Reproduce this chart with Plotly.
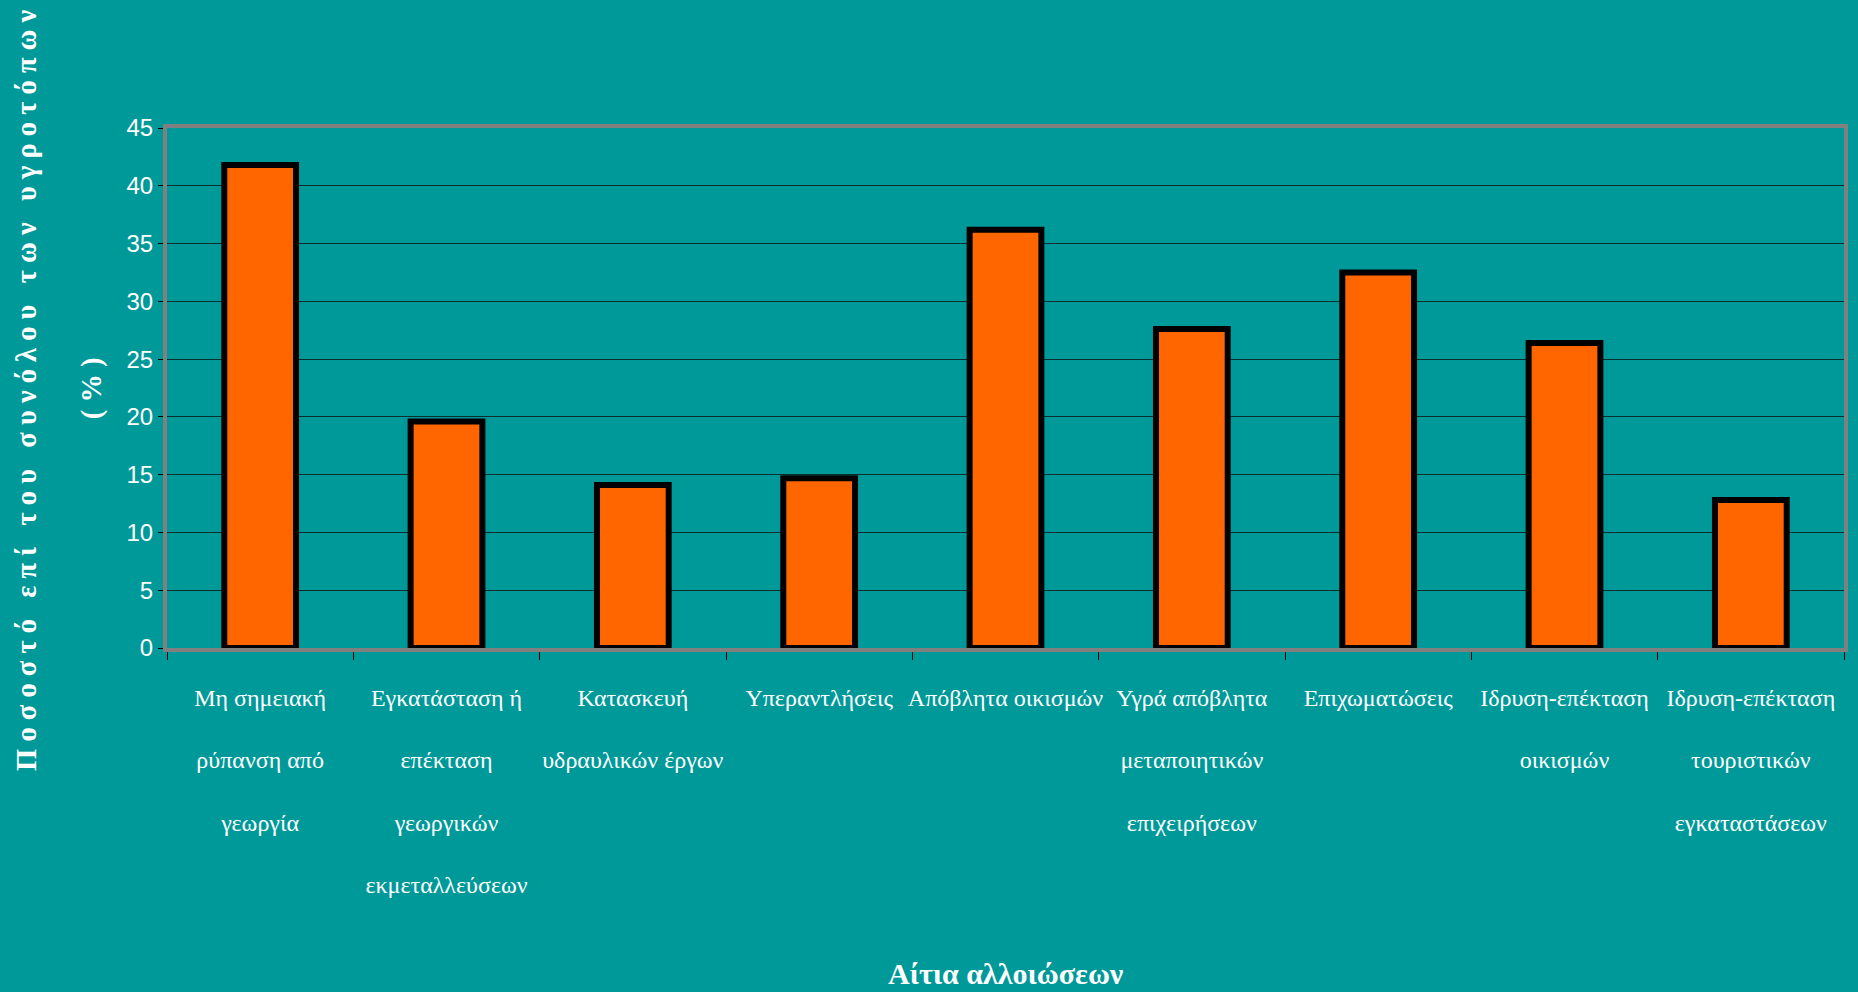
import plotly.graph_objects as go

# ---- data ----
categories = [
    "Μη σημειακή ρύπανση από γεωργία",
    "Εγκατάσταση ή επέκταση γεωργικών εκμεταλλεύσεων",
    "Κατασκευή υδραυλικών έργων",
    "Υπεραντλήσεις",
    "Απόβλητα οικισμών",
    "Υγρά απόβλητα μεταποιητικών επιχειρήσεων",
    "Επιχωματώσεις",
    "Ιδρυση-επέκταση οικισμών",
    "Ιδρυση-επέκταση τουριστικών εγκαταστάσεων",
]
tick_lines = [
    ["Μη σημειακή", "ρύπανση από", "γεωργία"],
    ["Εγκατάσταση ή", "επέκταση", "γεωργικών", "εκμεταλλεύσεων"],
    ["Κατασκευή", "υδραυλικών έργων"],
    ["Υπεραντλήσεις"],
    ["Απόβλητα οικισμών"],
    ["Υγρά απόβλητα", "μεταποιητικών", "επιχειρήσεων"],
    ["Επιχωματώσεις"],
    ["Ιδρυση-επέκταση", "οικισμών"],
    ["Ιδρυση-επέκταση", "τουριστικών", "εγκαταστάσεων"],
]
values = [41.8, 19.6, 14.1, 14.7, 36.2, 27.6, 32.5, 26.4, 12.8]
y_ticks = [0, 5, 10, 15, 20, 25, 30, 35, 40, 45]

y_title_words = ["Ποσοστό", "επί", "του", "συνόλου", "των", "υγροτόπων"]
y_title_unit = "(%)"
x_title = "Αίτια αλλοιώσεων"

# ---- styling ----
TEAL = "#009999"
ORANGE = "#FF6600"
GRAY = "#808080"
NB = "\u00a0"


def spaced(word):
    return NB.join(list(word))


y_title_text = (NB * 3).join(spaced(w) for w in y_title_words)
y_unit_text = NB.join(list(y_title_unit))
tick_text = ["<br><br>".join(lines) for lines in tick_lines]

fig = go.Figure()
fig.add_trace(go.Bar(
    x=categories,
    y=values,
    marker=dict(color=ORANGE, line=dict(color="black", width=6)),
    width=0.385,
    hoverinfo="x+y",
))

fig.update_layout(
    width=1858,
    height=992,
    paper_bgcolor=TEAL,
    plot_bgcolor=TEAL,
    margin=dict(l=167, r=10, t=128, b=344),
    showlegend=False,
    font=dict(family="Liberation Serif, Times New Roman, serif", color="white"),
)

fig.update_xaxes(
    type="category",
    tickmode="array",
    tickvals=categories,
    ticktext=tick_text,
    tickangle=0,
    tickson="boundaries",
    ticks="outside",
    ticklen=8,
    tickcolor="black",
    tickwidth=1,
    showline=True,
    linecolor=GRAY,
    linewidth=4,
    mirror=True,
    showgrid=False,
    tickfont=dict(family="Liberation Serif, Times New Roman, serif", size=24, color="white"),
    ticklabelstandoff=25,
)

fig.update_yaxes(
    range=[0, 45],
    tickmode="array",
    tickvals=y_ticks,
    ticks="outside",
    ticklen=5,
    tickcolor="black",
    tickwidth=1,
    showline=True,
    linecolor=GRAY,
    linewidth=4,
    mirror=True,
    showgrid=True,
    gridcolor="#0a2e2e",
    gridwidth=1,
    zeroline=False,
    tickfont=dict(family="Liberation Sans Narrow, Arial Narrow, Liberation Sans, Arial, sans-serif",
                  size=24, color="white"),
)

y_title_font = dict(family="Liberation Serif, Times New Roman, serif", size=28.5, color="white")
x_title_font = dict(family="Liberation Serif, Times New Roman, serif", size=30, color="white")

fig.add_annotation(
    text="<b>" + y_title_text + "</b>",
    xref="paper", yref="paper",
    x=-0.0839, y=0.495,
    xanchor="center", yanchor="middle",
    textangle=-90, showarrow=False,
    font=y_title_font,
)
fig.add_annotation(
    text="<b>" + y_unit_text + "</b>",
    xref="paper", yref="paper",
    x=-0.0446, y=0.5,
    xanchor="center", yanchor="middle",
    textangle=-90, showarrow=False,
    font=y_title_font,
)
fig.add_annotation(
    text="<b>" + x_title + "</b>",
    xref="paper", yref="paper",
    x=0.5, y=-0.625,
    xanchor="center", yanchor="middle",
    showarrow=False,
    font=x_title_font,
)

fig.write_html(
    "out.html",
    config={"displayModeBar": False},
    post_script="document.body.style.margin='0px';document.body.style.overflow='hidden';",
)
